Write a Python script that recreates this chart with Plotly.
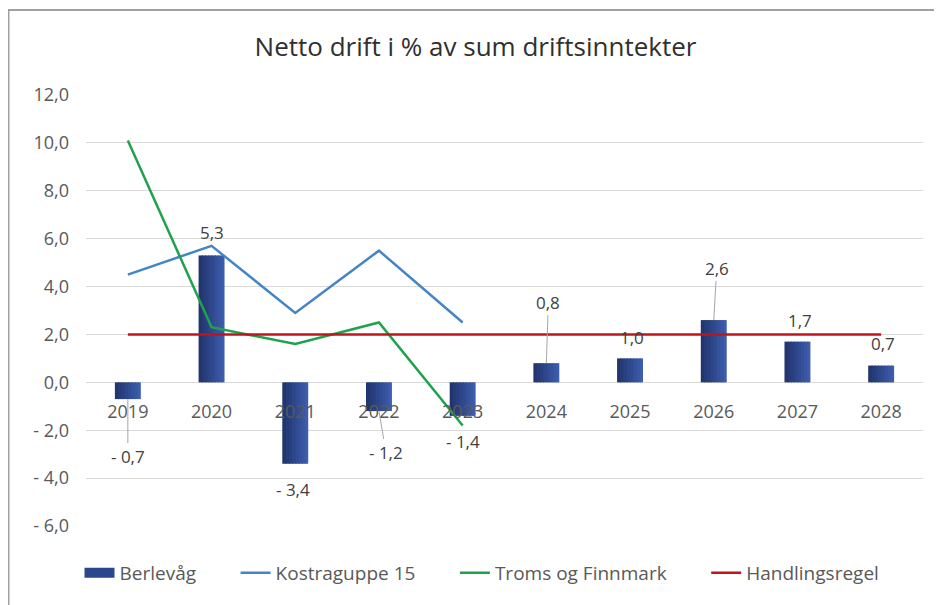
import plotly.graph_objects as go

# ---- data ----
years = ["2019", "2020", "2021", "2022", "2023", "2024", "2025", "2026", "2027", "2028"]
berlevag = [-0.7, 5.3, -3.4, -1.2, -1.4, 0.8, 1.0, 2.6, 1.7, 0.7]
kostragruppe15 = [4.5, 5.7, 2.9, 5.5, 2.5, None, None, None, None, None]
troms_finnmark = [10.1, 2.3, 1.6, 2.5, -1.8, None, None, None, None, None]
handlingsregel = [2.0, 2.0, 2.0, 2.0, 2.0, 2.0, 2.0, 2.0, 2.0, 2.0]
y_ticks = [-6, -4, -2, 0, 2, 4, 6, 8, 10, 12]

# ---- label placement (style) ----
label_dx = [0, 0, -2, 7, 0, 2, 2, 3, 3, 2]
label_dy = [57, -23, 26, 41, 26, -61, -21, -52, -21, -22]
leader = [True, False, False, True, False, True, False, True, False, False]


def fmt(v):
    s = f"{abs(v):.1f}".replace(".", ",")
    return ("- " + s) if v < 0 else s


idx = list(range(len(years)))

# page is rendered with an 8px body margin -> figure coords = page coords - 8
OFF = 8
W, H = 942 - OFF, 605 - OFF
L, R, T, B = 86 - OFF, W - (923 - OFF), 95 - OFF, H - (526 - OFF)
FONT = "Open Sans, Liberation Sans, sans-serif"
TXT = "#595959"
PAD = "\u00a0" * 7
BAR_COLOR = "#2B468B"

fig = go.Figure()

# bars drawn as thin overlaid slices to mimic the horizontal gradient fill
BAR_W = 0.31
N_SLICES = 8
c0, c1 = (0x22, 0x35, 0x6E), (0x3C, 0x5C, 0xAC)
step = BAR_W / N_SLICES
for k in range(N_SLICES):
    t = k / (N_SLICES - 1)
    col = "rgb({},{},{})".format(*[round(a + (b - a) * t) for a, b in zip(c0, c1)])
    w = step * (1.35 if k < N_SLICES - 1 else 1.0)
    fig.add_trace(go.Bar(x=idx, y=berlevag, name="Berlevåg", showlegend=False,
                         width=w, offset=-BAR_W / 2 + k * step,
                         marker=dict(color=col, line=dict(width=0)), hoverinfo="skip"))

# legend entry for the bars (wide rectangle swatch)
fig.add_trace(go.Scatter(x=[None], y=[None], name="Berlevåg" + PAD, mode="lines",
                         line=dict(color=BAR_COLOR, width=14)))
fig.add_trace(go.Scatter(x=idx, y=kostragruppe15, name="Kostraguppe 15" + PAD, mode="lines",
                         line=dict(color="#4485C6", width=2.5)))
fig.add_trace(go.Scatter(x=idx, y=troms_finnmark, name="Troms og Finnmark" + PAD, mode="lines",
                         line=dict(color="#1FA24C", width=2.5)))
fig.add_trace(go.Scatter(x=idx, y=handlingsregel, name="Handlingsregel", mode="lines",
                         line=dict(color="#C0141C", width=2.5)))

for i, v in enumerate(berlevag):
    fig.add_annotation(x=idx[i], y=v, text=fmt(v), showarrow=True, arrowhead=0,
                       arrowwidth=1, standoff=0,
                       arrowcolor="#A6A6A6" if leader[i] else "rgba(0,0,0,0)",
                       ax=label_dx[i], ay=label_dy[i],
                       font=dict(family=FONT, size=17, color="#404040"))


def px_x(p):  # page px -> paper
    return (p - OFF - L) / (W - L - R)


def px_y(p):
    return (H - B - (p - OFF)) / (H - T - B)


# chart border (top and left edges visible)
fig.add_shape(type="line", xref="paper", yref="paper", x0=px_x(OFF), x1=px_x(960),
              y0=px_y(10), y1=px_y(10), line=dict(color="#A0A0A0", width=2))
fig.add_shape(type="line", xref="paper", yref="paper", x0=px_x(OFF), x1=px_x(OFF),
              y0=px_y(10), y1=px_y(620), line=dict(color="#A0A0A0", width=3))

fig.update_layout(
    width=W, height=H,
    margin=dict(l=L, r=R, t=T, b=B, autoexpand=False),
    paper_bgcolor="white", plot_bgcolor="white",
    barmode="overlay",
    title=dict(text="Netto drift i % av sum driftsinntekter", x=(475.5 - OFF) / W, xanchor="center",
               y=1 - (47 - OFF) / H, yanchor="middle",
               font=dict(family=FONT, size=26, color="#303030")),
    showlegend=True,
    legend=dict(orientation="h", x=px_x(482), xanchor="center", y=px_y(573), yanchor="middle",
                font=dict(family=FONT, size=19, color=TXT), traceorder="normal",
                bgcolor="rgba(0,0,0,0)"),
    xaxis=dict(range=[-0.5, len(years) - 0.5], tickvals=idx, ticktext=years,
               anchor="free", position=6 / 18, showgrid=False, zeroline=False,
               showline=False, ticks="", ticklabelstandoff=17,
               tickfont=dict(family=FONT, size=18, color=TXT)),
    yaxis=dict(range=[-6, 12], tickvals=y_ticks, ticktext=[fmt(v) for v in y_ticks],
               showgrid=True, gridcolor="#D9D9D9", gridwidth=1, zeroline=False,
               showline=False, ticks="", ticklabelstandoff=16,
               tickfont=dict(family=FONT, size=18, color=TXT)),
)

fig.write_html("out.html")
